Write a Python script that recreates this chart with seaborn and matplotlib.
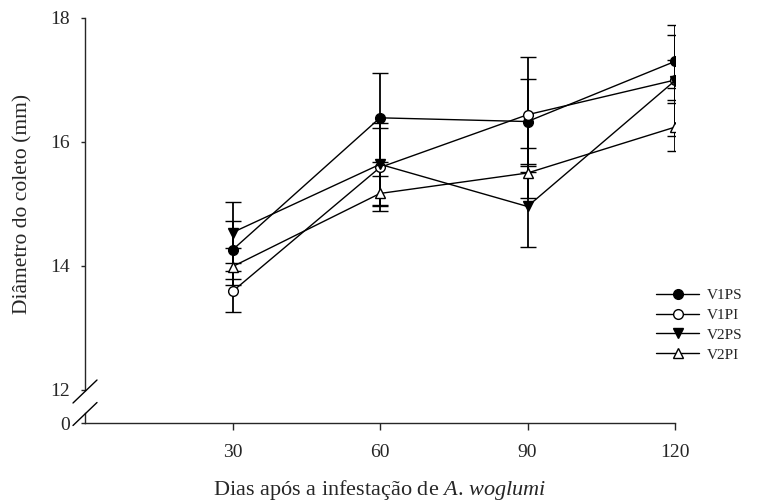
import numpy as np
import pandas as pd
import seaborn as sns
import matplotlib
matplotlib.use("Agg")
import matplotlib.pyplot as plt
from matplotlib.lines import Line2D

# values
days = [30, 60, 90, 120]
series = ["V1PS", "V1PI", "V2PS", "V2PI"]
v1ps = [14.26, 16.39, 16.33, 17.30]
v1ps_err = [0.47, 0.72, 0.69, 0.43]
v1pi = [13.59, 15.59, 16.44, 17.00]
v1pi_err = [0.33, 0.63, 0.93, 0.32]
v2ps = [14.54, 15.64, 14.96, 16.99]
v2ps_err = [0.49, 0.66, 0.66, 0.90]
v2pi = [13.99, 15.17, 15.50, 16.24]
v2pi_err = [0.30, 0.28, 0.41, 0.39]

means = [v1ps, v1pi, v2ps, v2pi]
errs = [v1ps_err, v1pi_err, v2ps_err, v2pi_err]
markers = ["o", "o", "v", "^"]
faces = ["black", "white", "black", "white"]

sns.set_style("ticks")
plt.rcParams["font.family"] = ["Liberation Serif", "DejaVu Serif"]
plt.rcParams["mathtext.fontset"] = "custom"
plt.rcParams["mathtext.rm"] = "Liberation Serif"
plt.rcParams["mathtext.it"] = "Liberation Serif:italic"

W, H = 764, 500
fig = plt.figure(figsize=(W / 100, H / 100), dpi=100)

x0, x1 = 85, 675
ax = fig.add_axes([x0 / W, (H - 390) / H, (x1 - x0) / W, (390 - 18) / H])
axb = fig.add_axes([x0 / W, (H - 423) / H, (x1 - x0) / W, (423 - 413) / H], sharex=ax)

for name, m, e, mk, fc in zip(series, means, errs, markers, faces):
    ax.errorbar(days, m, yerr=e, fmt="none", ecolor="black", elinewidth=1.3,
                capsize=6, capthick=1.0, zorder=1)
    sns.lineplot(x=days, y=m, ax=ax, color="black", marker=mk, markersize=7,
                 markerfacecolor=fc, markeredgecolor="black", markeredgewidth=1.0,
                 linewidth=1.0, label=name, zorder=2)

ax.set_xlim(0, 120)
ax.set_ylim(12, 18)
ax.set_yticks([12, 14, 16, 18])
ax.spines["top"].set_visible(False)
ax.spines["right"].set_visible(False)
ax.spines["bottom"].set_visible(False)
ax.tick_params(axis="x", bottom=False, labelbottom=False)
ax.tick_params(axis="y", direction="out", length=3, width=1, labelsize=14, pad=8)
ax.set_ylabel("Diâmetro do coleto (mm)", fontsize=15.5)
ax.yaxis.set_label_coords(-53 / (x1 - x0), 0.5)

axb.set_ylim(0, 1)
axb.set_yticks([0])
axb.set_xticks(days)
axb.spines["top"].set_visible(False)
axb.spines["right"].set_visible(False)
axb.tick_params(axis="y", direction="out", length=3, width=1, labelsize=14, pad=8)
axb.tick_params(axis="x", direction="out", length=5, width=1, labelsize=14, pad=10)
axb.set_xlabel(r"Dias após a infestação de $\mathit{A.\,woglumi}$", fontsize=16, labelpad=12)
for a in (ax, axb):
    for s in a.spines.values():
        s.set_linewidth(1)
    a.set_facecolor("white")

# axis break marks
for cy in (391.5, 414):
    fig.add_artist(Line2D([(x0 - 12) / W, (x0 + 12) / W],
                          [(H - cy - 11.5) / H, (H - cy + 11.5) / H],
                          color="black", linewidth=1))

leg = ax.legend(loc="center left", bbox_to_anchor=(650 / W, (H - 325) / H),
                bbox_transform=fig.transFigure, frameon=False, fontsize=11,
                handlelength=2.8, handletextpad=0.55, labelspacing=0.4,
                borderaxespad=0)

fig.savefig("out.png", dpi=100)
